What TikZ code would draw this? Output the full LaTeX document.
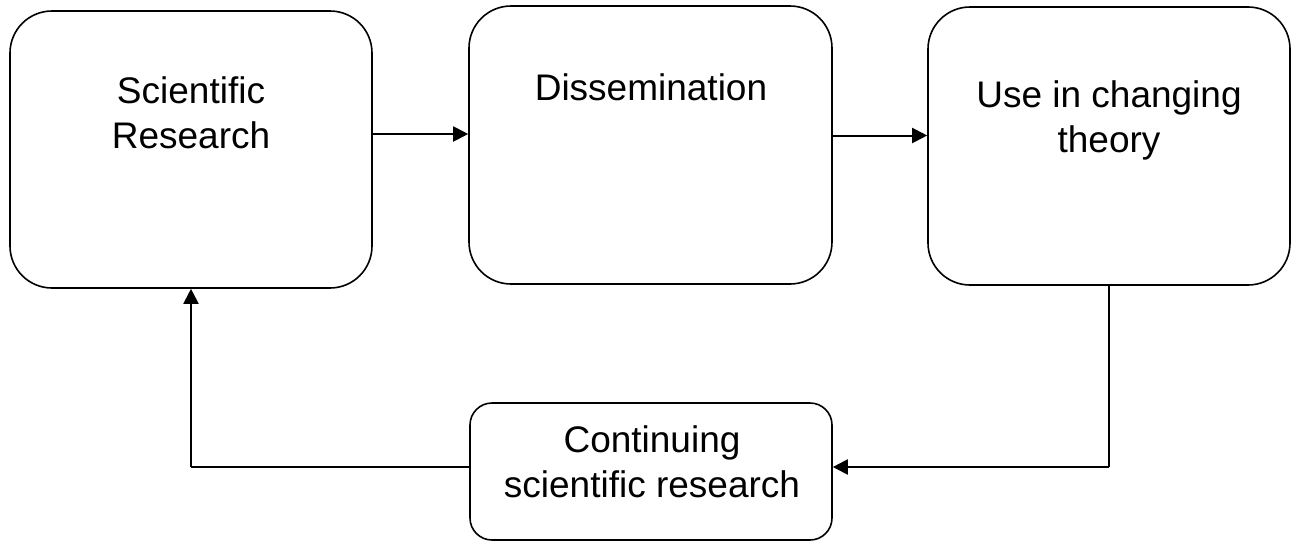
\documentclass[tikz,border=0pt]{standalone}
\usepackage{fontspec}
\setmainfont{Liberation Sans}
\usetikzlibrary{arrows.meta}
\begin{document}
\begin{tikzpicture}[x=1pt,y=-1pt,
  stagebox/.style={draw=black,line width=1.6pt,rectangle,rounded corners=42pt,
    inner sep=0pt,minimum width=362pt,minimum height=278pt},
  smallbox/.style={stagebox,rounded corners=22pt,minimum height=137pt},
  caption/.style={font=\fontsize{37}{45}\selectfont,align=center,anchor=base,inner sep=0pt},
  flow/.style={line width=2pt,-{Triangle[length=15pt,width=15pt]}},
  link/.style={line width=2pt}]
  \useasboundingbox (0,0) rectangle (1291,541);

  % stages of the research cycle
  \node[stagebox,minimum height=277pt] (b1) at (191,149.5) {};
  \node[stagebox,minimum width=363pt] (b2) at (650.5,145) {};
  \node[stagebox] (b3) at (1109,146) {};
  \node[smallbox] (b4) at (651,471.5) {};

  % captions, placed by the baseline of their last line
  \node[caption] (t1) at (191,148) {Scientific\\Research};
  \node[caption] (t2) at (651,100) {Dissemination};
  \node[caption] (t3) at (1109,152) {Use in changing\\theory};
  \node[caption] (t4) at (652,497) {Continuing\\scientific research};

  % connectors
  \coordinate (r1) at (0,134);
  \coordinate (r2) at (0,135.5);
  \coordinate (r3) at (0,467);
  \draw[flow] (b1.east |- r1) -- (b2.west |- r1);
  \draw[flow] (b2.east |- r2) -- (b3.west |- r2);
  \draw[link] (b3.south) -- (b3.south |- r3);
  \draw[flow] (b3.south |- r3) -- (b4.east |- r3);
  \draw[link] (b4.west |- r3) -- (b1.south |- r3);
  \draw[flow] (b1.south |- r3) -- (b1.south);
\end{tikzpicture}
\end{document}
